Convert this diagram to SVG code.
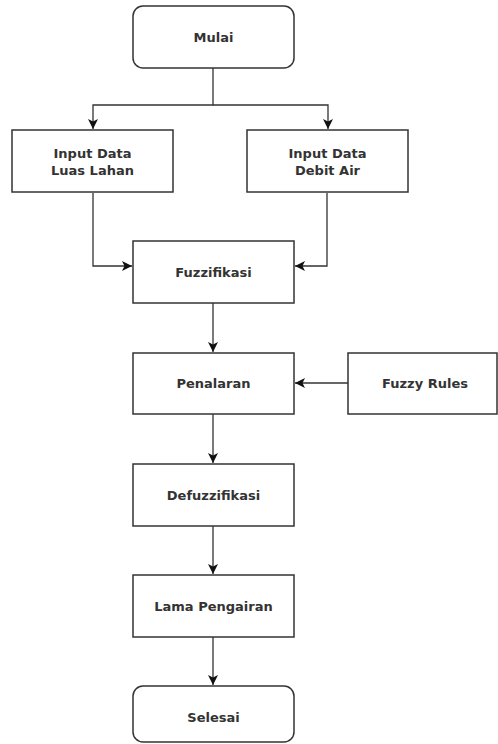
<svg xmlns="http://www.w3.org/2000/svg" width="498" height="744" viewBox="0 0 498 744">
<defs>
<style>
.box{fill:#fff;stroke:#333;stroke-width:1.5}
.t{font-family:"DejaVu Sans",Verdana,sans-serif;font-size:13px;font-weight:bold;fill:#333;text-anchor:middle;dominant-baseline:central}
.c{fill:none;stroke:#333;stroke-width:1.3}
</style>
<marker id="ah" viewBox="0 0 10 10" refX="10" refY="5" markerWidth="10" markerHeight="10" markerUnits="userSpaceOnUse" orient="auto">
<path d="M0,0 L10,5 L0,10 L2.5,5 Z" fill="#111"/>
</marker>
</defs>
<rect width="498" height="744" fill="#fff"/>
<g id="connectors">
<path class="c" d="M213,68 V105 H93 V129" marker-end="url(#ah)"/>
<path class="c" d="M213,105 H328 V129" marker-end="url(#ah)"/>
<path class="c" d="M93,193 V266 H132" marker-end="url(#ah)"/>
<path class="c" d="M327,193 V266 H295" marker-end="url(#ah)"/>
<path class="c" d="M213,303 V352" marker-end="url(#ah)"/>
<path class="c" d="M348,383 H295" marker-end="url(#ah)"/>
<path class="c" d="M213,414 V463" marker-end="url(#ah)"/>
<path class="c" d="M213,526 V574" marker-end="url(#ah)"/>
<path class="c" d="M213,637 V685" marker-end="url(#ah)"/>
</g>
<g id="mulai"><rect class="box" x="133" y="6" width="161" height="62" rx="10"/><text class="t" x="213.5" y="37">Mulai</text></g>
<g id="luas"><rect class="box" x="12" y="130" width="161" height="62"/><text class="t" x="92.5" y="153">Input Data</text><text class="t" x="92.5" y="170">Luas Lahan</text></g>
<g id="debit"><rect class="box" x="247" y="130" width="161" height="62"/><text class="t" x="327.5" y="153">Input Data</text><text class="t" x="327.5" y="170">Debit Air</text></g>
<g id="fuzzifikasi"><rect class="box" x="133" y="241" width="161" height="62"/><text class="t" x="213.5" y="272">Fuzzifikasi</text></g>
<g id="penalaran"><rect class="box" x="133" y="353" width="161" height="61"/><text class="t" x="213.5" y="383">Penalaran</text></g>
<g id="rules"><rect class="box" x="348" y="353" width="149" height="61"/><text class="t" x="425" y="383">Fuzzy Rules</text></g>
<g id="defuzzifikasi"><rect class="box" x="133" y="464" width="161" height="62"/><text class="t" x="213.5" y="495">Defuzzifikasi</text></g>
<g id="lama"><rect class="box" x="133" y="575" width="161" height="62"/><text class="t" x="213.5" y="606">Lama Pengairan</text></g>
<g id="selesai"><rect class="box" x="133" y="686" width="161" height="56" rx="10"/><text class="t" x="213.5" y="717">Selesai</text></g>
</svg>
